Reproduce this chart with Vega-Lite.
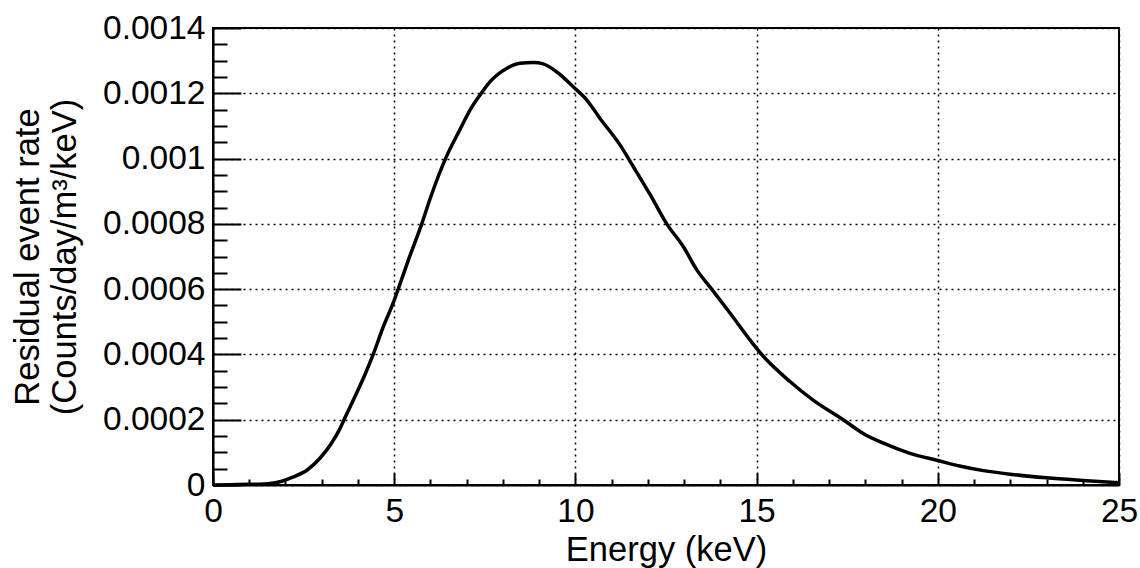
{
  "$schema": "https://vega.github.io/schema/vega-lite/v6.json",
  "width": 906,
  "height": 457,
  "autosize": {"type": "none"},
  "padding": {"left": 213, "top": 28, "right": 21, "bottom": 83},
  "background": "white",
  "config": {
    "font": "Liberation Sans",
    "view": {"stroke": "black", "strokeWidth": 2},
    "axis": {
      "domainColor": "black",
      "domainWidth": 2,
      "tickColor": "black",
      "tickWidth": 2,
      "labelColor": "black",
      "titleColor": "black",
      "labelFont": "Liberation Sans",
      "titleFont": "Liberation Sans",
      "labelFontSize": 33.5,
      "titleFontSize": 34.5,
      "titleFontWeight": "normal",
      "gridColor": "black",
      "gridWidth": 1.5,
      "gridDash": [2, 4],
      "gridOpacity": 1,
      "labelFlush": false,
      "labelOverlap": false,
      "labelBound": false
    }
  },
  "data": {
    "values": [
      {"E": 0, "rate": 0},
      {"E": 0.5, "rate": 0.000001},
      {"E": 1.0, "rate": 0.000002},
      {"E": 1.5, "rate": 0.000004},
      {"E": 1.85, "rate": 0.00001},
      {"E": 2.2, "rate": 0.000024},
      {"E": 2.6, "rate": 0.000046},
      {"E": 2.95, "rate": 0.000082},
      {"E": 3.25, "rate": 0.000125},
      {"E": 3.5, "rate": 0.000172},
      {"E": 3.65, "rate": 0.000208},
      {"E": 3.96, "rate": 0.000281},
      {"E": 4.2, "rate": 0.00034},
      {"E": 4.42, "rate": 0.0004},
      {"E": 4.7, "rate": 0.000485},
      {"E": 4.97, "rate": 0.000557},
      {"E": 5.11, "rate": 0.0006},
      {"E": 5.39, "rate": 0.000689},
      {"E": 5.76, "rate": 0.0008},
      {"E": 6.0, "rate": 0.00088},
      {"E": 6.44, "rate": 0.001006},
      {"E": 6.81, "rate": 0.001088},
      {"E": 7.1, "rate": 0.00115},
      {"E": 7.37, "rate": 0.001195},
      {"E": 7.64, "rate": 0.001235},
      {"E": 8.1, "rate": 0.001276},
      {"E": 8.47, "rate": 0.001292},
      {"E": 8.84, "rate": 0.001294},
      {"E": 9.11, "rate": 0.00129},
      {"E": 9.48, "rate": 0.001266},
      {"E": 9.94, "rate": 0.00122},
      {"E": 10.31, "rate": 0.00118},
      {"E": 10.68, "rate": 0.001123},
      {"E": 11.23, "rate": 0.001042},
      {"E": 11.6, "rate": 0.000975},
      {"E": 12.06, "rate": 0.00089},
      {"E": 12.52, "rate": 0.0008},
      {"E": 12.98, "rate": 0.00073},
      {"E": 13.35, "rate": 0.000659},
      {"E": 13.76, "rate": 0.0006},
      {"E": 14.27, "rate": 0.000526},
      {"E": 14.82, "rate": 0.000444},
      {"E": 15.14, "rate": 0.0004},
      {"E": 15.92, "rate": 0.000317},
      {"E": 16.56, "rate": 0.00026},
      {"E": 17.39, "rate": 0.0002},
      {"E": 17.94, "rate": 0.000158},
      {"E": 18.5, "rate": 0.000128},
      {"E": 19.23, "rate": 0.000097},
      {"E": 20.0, "rate": 0.000075},
      {"E": 20.6, "rate": 0.000058},
      {"E": 21.26, "rate": 0.000044},
      {"E": 22.0, "rate": 0.000033},
      {"E": 23.0, "rate": 0.000022},
      {"E": 24.0, "rate": 0.000014},
      {"E": 25.0, "rate": 0.000007}
    ]
  },
  "layer": [
    {
      "mark": {"type": "line", "color": "black", "strokeWidth": 3.5, "interpolate": "monotone"},
      "encoding": {
        "x": {
          "field": "E", "type": "quantitative",
          "scale": {"domain": [0, 25], "nice": false, "zero": false},
          "axis": {
            "orient": "bottom",
            "title": "Energy (keV)",
            "values": [0, 5, 10, 15, 20, 25],
            "grid": true,
            "ticks": false,
            "labelPadding": 10,
            "titlePadding": 6,
            "format": "d"
          }
        },
        "y": {
          "field": "rate", "type": "quantitative",
          "scale": {"domain": [0, 0.0014], "nice": false, "zero": false},
          "axis": {
            "orient": "left",
            "title": ["Residual event rate", "(Counts/day/m³/keV)"],
            "titleLineHeight": 37,
            "values": [0, 0.0002, 0.0004, 0.0006, 0.0008, 0.001, 0.0012, 0.0014],
            "grid": true,
            "ticks": false,
            "labelPadding": 8,
            "titlePadding": 20,
            "format": "~g"
          }
        }
      }
    },
    {
      "mark": {"type": "line", "opacity": 0},
      "encoding": {
        "x": {
          "field": "E", "type": "quantitative",
          "axis": {
            "orient": "bottom",
            "title": null,
            "labels": false,
            "domain": false,
            "grid": false,
            "values": [0, 5, 10, 15, 20, 25],
            "offset": -12,
            "tickSize": 12
          }
        },
        "y": {
          "field": "rate", "type": "quantitative",
          "axis": {
            "orient": "left",
            "title": null,
            "labels": false,
            "domain": false,
            "grid": false,
            "values": [0, 0.0002, 0.0004, 0.0006, 0.0008, 0.001, 0.0012, 0.0014],
            "offset": -28,
            "tickSize": 28
          }
        }
      }
    },
    {
      "mark": {"type": "line", "opacity": 0},
      "encoding": {
        "x": {
          "field": "E", "type": "quantitative",
          "axis": {
            "orient": "bottom",
            "title": null,
            "labels": false,
            "domain": false,
            "grid": false,
            "values": [1, 2, 3, 4, 6, 7, 8, 9, 11, 12, 13, 14, 16, 17, 18, 19, 21, 22, 23, 24],
            "offset": -6,
            "tickSize": 6
          }
        },
        "y": {
          "field": "rate", "type": "quantitative",
          "axis": {
            "orient": "left",
            "title": null,
            "labels": false,
            "domain": false,
            "grid": false,
            "values": [0.00005, 0.0001, 0.00015, 0.00025, 0.0003, 0.00035, 0.00045, 0.0005, 0.00055, 0.00065, 0.0007, 0.00075, 0.00085, 0.0009, 0.00095, 0.00105, 0.0011, 0.00115, 0.00125, 0.0013, 0.00135],
            "offset": -14,
            "tickSize": 14
          }
        }
      }
    }
  ],
  "resolve": {"axis": {"x": "independent", "y": "independent"}}
}
